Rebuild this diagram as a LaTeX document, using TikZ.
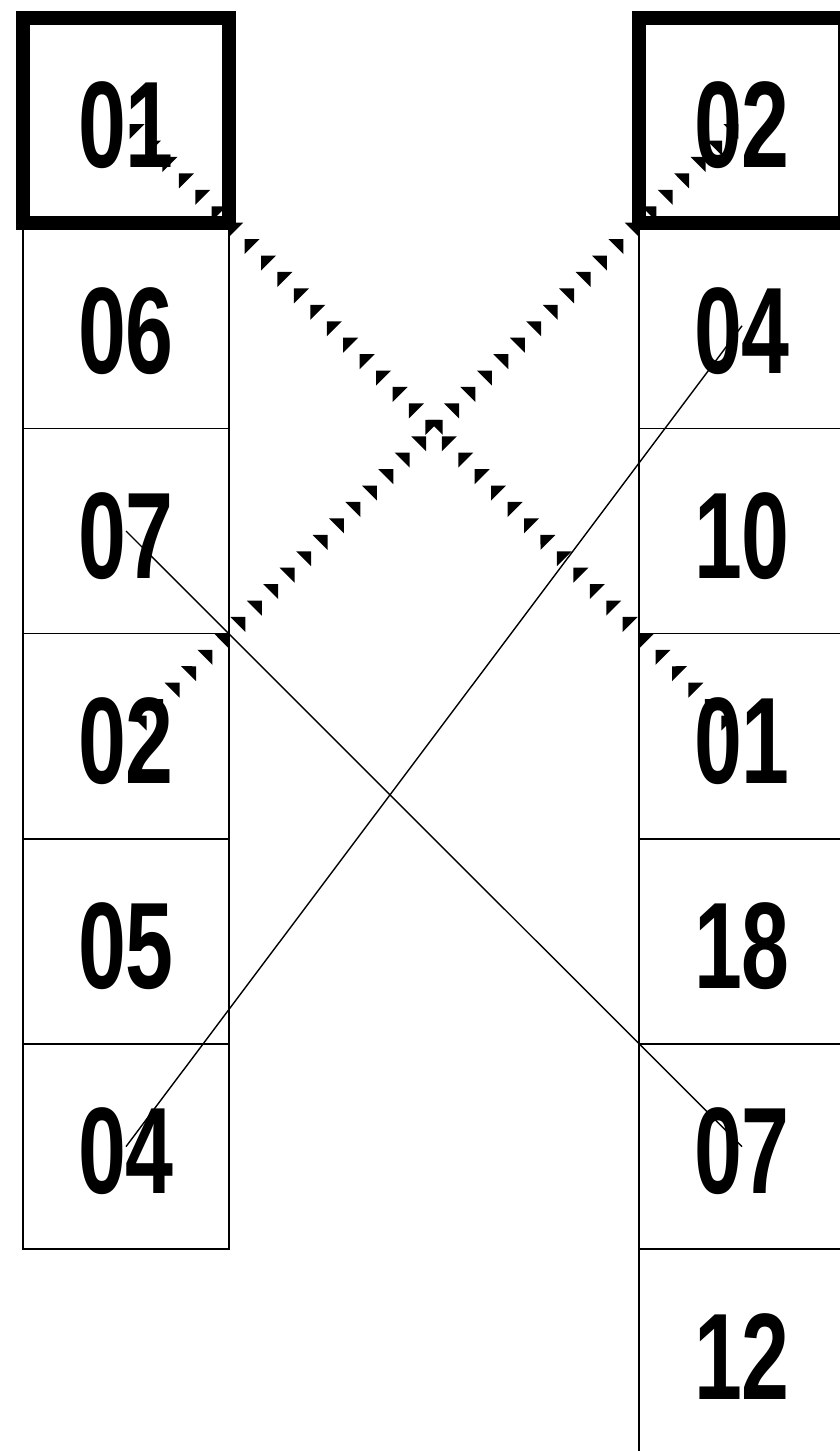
\documentclass[tikz,border=0pt]{standalone}
\usepackage{fontspec}
\newfontfamily\numfont[FakeStretch=0.7]{Liberation Sans Bold}
\usetikzlibrary{decorations.markings}
\pgfdeclarelayer{bg}
\pgfsetlayers{bg,main}
\begin{document}
\begin{tikzpicture}[x=1pt,y=-1pt,
  cell/.style={draw, line width=1.6pt, minimum width=206pt, minimum height=205.2pt,
    inner sep=0pt, outer sep=0pt, anchor=north west},
  firstcell/.style={cell, line width=14pt},
  num/.style={font=\numfont\fontsize{123}{123}\selectfont, inner sep=0pt},
  link/.style={line width=1.4pt},
  trilink/.style={decoration={markings,
      mark=between positions 11pt and 871pt step 23.24pt with
      {\fill (-6,0) -- (4.6,10.6) -- (4.6,-10.6) -- cycle;}}, decorate}
]
\useasboundingbox (0,0) rectangle (840,1451);
\clip (0,0) rectangle (840,1451);
% left column
\foreach \i/\t in {1/06,2/07,3/02,4/05,5/04}{
  \node[cell] (L\i) at (23,{18+205.2*\i}) {};
  \node[num] (L\i t) at ([yshift=-5pt]L\i.center) {\t};
}
\node[firstcell] (L0) at (23,18) {};
\node[num] (L0t) at ([yshift=-5pt]L0.center) {01};
% right column
\foreach \i/\t in {1/04,2/10,3/01,4/18,5/07,6/12}{
  \node[cell] (R\i) at (639,{18+205.2*\i}) {};
  \node[num] (R\i t) at ([yshift=-5pt]R\i.center) {\t};
}
\node[firstcell] (R0) at (639,18) {};
\node[num] (R0t) at ([yshift=-5pt]R0.center) {02};
% triangle connectors
\begin{pgfonlayer}{bg}
\path[trilink] (L0.center) -- (R3.center);
\path[trilink] (R0.center) -- (L3.center);
\end{pgfonlayer}
% thin connectors
\draw[link] (L2.center) -- (R5.center);
\draw[link] (L5.center) -- (R1.center);
\end{tikzpicture}
\end{document}
